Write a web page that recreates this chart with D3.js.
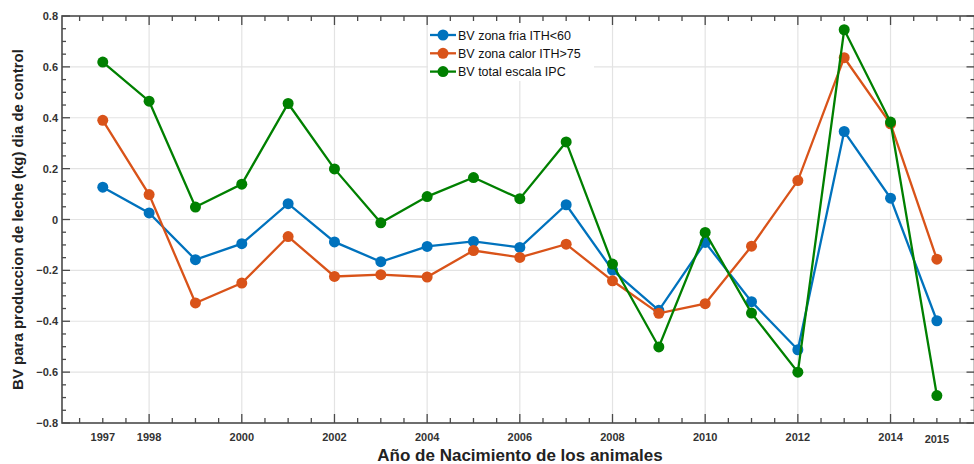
<!DOCTYPE html>
<html>
<head>
<meta charset="utf-8">
<script src="https://cdn.jsdelivr.net/npm/d3@7"></script>
<style>
  body { margin: 0; background: #fff; }
  svg { display: block; font-family: "Liberation Sans", Arial, sans-serif; }
</style>
</head>
<body>
<div id="chart"></div>
<script>
'use strict';

// years of birth
const years = [1997, 1998, 1999, 2000, 2001, 2002, 2003, 2004, 2005, 2006,
               2007, 2008, 2009, 2010, 2011, 2012, 2013, 2014, 2015];

// breeding values per series
const fria = [0.127, 0.026, -0.158, -0.095, 0.062, -0.088, -0.166, -0.106, -0.086, -0.110,
              0.058, -0.199, -0.357, -0.090, -0.323, -0.512, 0.346, 0.084, -0.398];
const calor = [0.390, 0.098, -0.328, -0.250, -0.067, -0.224, -0.217, -0.226, -0.122, -0.149,
               -0.097, -0.241, -0.369, -0.331, -0.105, 0.153, 0.636, 0.376, -0.156];
const total = [0.619, 0.465, 0.049, 0.139, 0.456, 0.199, -0.013, 0.090, 0.165, 0.082,
               0.305, -0.175, -0.501, -0.051, -0.368, -0.600, 0.746, 0.383, -0.692];

const seriesNames = ["BV zona fria ITH<60", "BV zona calor ITH>75", "BV total escala IPC"];
const seriesColors = ["#0072BD", "#D95319", "#008000"];

// axis ticks
const xTickLabels = [1997, 1998, 2000, 2002, 2004, 2006, 2008, 2010, 2012, 2014, 2015];
const xGridYears = [1998, 2000, 2002, 2004, 2006, 2008, 2010, 2012, 2014];
const yTicks = [-0.8, -0.6, -0.4, -0.2, 0, 0.2, 0.4, 0.6, 0.8];

const width = 974, height = 464;
const pLeft = 62, pRight = 974.5, pTop = 16, pBottom = 423;

const svg = d3.select("#chart").append("svg")
    .attr("width", width)
    .attr("height", height);

const x = d3.scaleLinear().domain([1996.12, 2015.812]).range([pLeft, pRight]);
const y = d3.scaleLinear().domain([-0.8, 0.8]).range([pBottom, pTop]);

// grid lines
svg.append("g").selectAll("line")
    .data(xGridYears).enter().append("line")
    .attr("x1", d => x(d)).attr("x2", d => x(d))
    .attr("y1", pTop).attr("y2", pBottom)
    .attr("stroke", "#e3e3e3").attr("stroke-width", 1.2);
svg.append("g").selectAll("line")
    .data(yTicks.slice(1, -1)).enter().append("line")
    .attr("x1", pLeft).attr("x2", pRight)
    .attr("y1", d => y(d)).attr("y2", d => y(d))
    .attr("stroke", "#e3e3e3").attr("stroke-width", 1.2);

// minor / major ticks (inward)
const axisColor = "#4a4a4a";
const xMinor = d3.range(1996.5, 2015.8, 0.5);
const yMinor = d3.range(-0.8, 0.801, 0.05);
const tk = svg.append("g").attr("stroke", axisColor).attr("stroke-width", 1.3);
xMinor.forEach(v => {
    const len = (Math.abs(v % 2) < 1e-6) ? 9 : 5;
    tk.append("line").attr("x1", x(v)).attr("x2", x(v)).attr("y1", pBottom).attr("y2", pBottom - len);
    tk.append("line").attr("x1", x(v)).attr("x2", x(v)).attr("y1", pTop).attr("y2", pTop + len);
});
yMinor.forEach(v => {
    const major = Math.abs(Math.round(v * 5) - v * 5) < 1e-6;
    const len = major ? 8 : 4;
    tk.append("line").attr("x1", pLeft).attr("x2", pLeft + len).attr("y1", y(v)).attr("y2", y(v));
    tk.append("line").attr("x1", pRight).attr("x2", pRight - len).attr("y1", y(v)).attr("y2", y(v));
});

// axis frame
svg.append("rect")
    .attr("x", pLeft).attr("y", pTop)
    .attr("width", pRight - pLeft).attr("height", pBottom - pTop)
    .attr("fill", "none").attr("stroke", axisColor).attr("stroke-width", 1.6);

// tick labels
svg.append("g").selectAll("text")
    .data(yTicks).enter().append("text")
    .attr("x", pLeft - 4).attr("y", d => y(d) + 4)
    .attr("text-anchor", "end")
    .attr("font-size", 11).attr("font-weight", "bold").attr("fill", "#333")
    .text(d => d === 0 ? "0" : d3.format(".1f")(d));
svg.append("g").selectAll("text")
    .data(xTickLabels).enter().append("text")
    .attr("x", d => x(d)).attr("y", d => d === 2015 ? 443 : 441)
    .attr("text-anchor", "middle")
    .attr("font-size", 11).attr("font-weight", "bold").attr("fill", "#333")
    .text(d => d);

// axis titles
svg.append("text")
    .attr("transform", "translate(23," + ((pTop + pBottom) / 2) + ") rotate(-90)")
    .attr("text-anchor", "middle")
    .attr("font-size", 15).attr("font-weight", "bold").attr("fill", "#222")
    .text("BV para produccion de leche (kg) dia de control");
svg.append("text")
    .attr("x", 520).attr("y", 461)
    .attr("text-anchor", "middle")
    .attr("font-size", 17).attr("font-weight", "bold").attr("fill", "#222")
    .text("Año de Nacimiento de los animales");

// series
const allSeries = [fria, calor, total];
const line = d3.line().x((d, i) => x(years[i])).y(d => y(d));
allSeries.forEach((vals, k) => {
    const g = svg.append("g");
    g.append("path").datum(vals)
        .attr("d", line)
        .attr("fill", "none")
        .attr("stroke", seriesColors[k])
        .attr("stroke-width", 2.3);
    g.selectAll("circle").data(vals).enter().append("circle")
        .attr("cx", (d, i) => x(years[i]))
        .attr("cy", d => y(d))
        .attr("r", 5.5)
        .attr("fill", seriesColors[k]);
});

// legend
const lg = svg.append("g");
lg.append("rect")
    .attr("x", 428).attr("y", 23).attr("width", 166).attr("height", 58)
    .attr("fill", "#fff");
seriesNames.forEach((name, k) => {
    const ly = 35 + k * 18.3;
    lg.append("line")
        .attr("x1", 430).attr("x2", 456).attr("y1", ly).attr("y2", ly)
        .attr("stroke", seriesColors[k]).attr("stroke-width", 2.3);
    lg.append("circle")
        .attr("cx", 443).attr("cy", ly).attr("r", 5.5)
        .attr("fill", seriesColors[k]);
    lg.append("text")
        .attr("x", 458).attr("y", ly + 4.5)
        .attr("font-size", 12.5).attr("fill", "#111")
        .text(name);
});
</script>
</body>
</html>
